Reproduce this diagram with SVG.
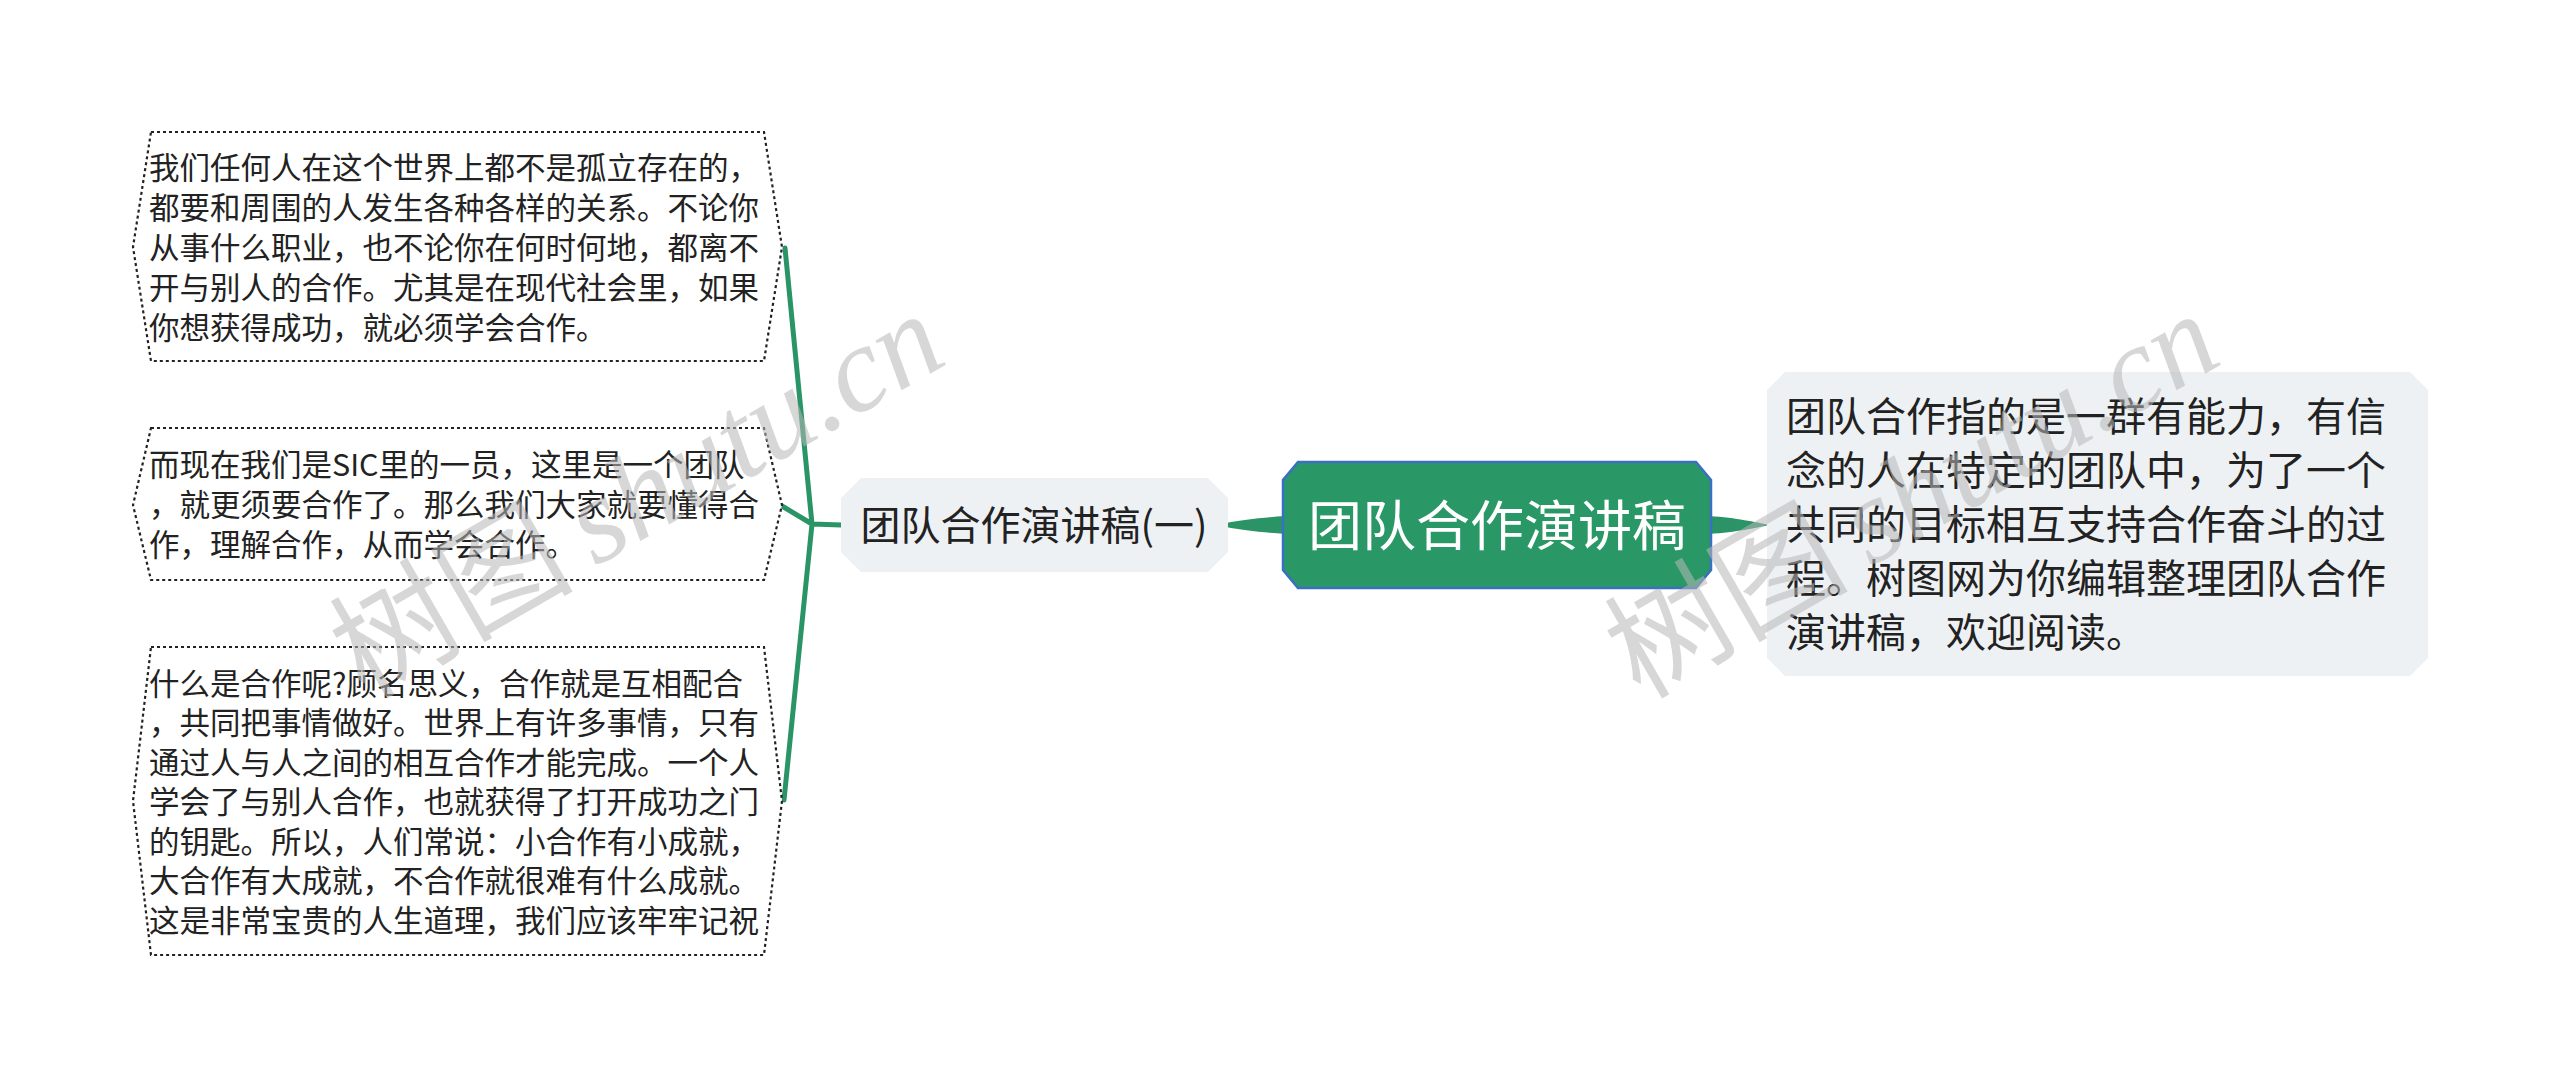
<svg xmlns="http://www.w3.org/2000/svg" width="2560" height="1089" viewBox="0 0 2560 1089">
<style>
text{font-family:"Noto Sans CJK SC","Noto Sans",sans-serif;}
.leaf{fill:#fff;stroke:#222;stroke-width:2.2;stroke-dasharray:3 3;}
.lt{font-size:30.5px;fill:#222;}
.rt{font-size:40px;fill:#222;}
.conn{stroke:#2a9466;stroke-width:5;fill:none;stroke-linecap:round;}
.wm{font-size:122px;fill:#b8b8b8;opacity:.55;}
.wm2{font-family:"Liberation Serif",serif;font-style:italic;}
</style>
<rect width="2560" height="1089" fill="#fff"/>
<g id="connectors">
<path class="conn" d="M841,525 L812,524 M812,524 L785,248 M812,524 L782,506 M812,524 L784,800"/>
<path d="M1285,516 C1258,518 1242,520 1226,523 L1226,527 C1242,530 1258,532 1285,534 Z" fill="#2a9466"/>
<path d="M1709,516 C1738,518 1754,522 1770,525 C1754,528 1738,532 1709,534 Z" fill="#2a9466"/>
</g>
<g id="node-center">
<path d="M1298,462 L1696,462 L1711,480 L1711,570 L1696,588 L1298,588 L1283,570 L1283,480 Z" fill="#2a9866" stroke="#3a6fc2" stroke-width="2.5"/>
<text x="1497" y="546" text-anchor="middle" font-size="54" fill="#fff">团队合作演讲稿</text>
</g>
<g id="node-branch">
<path d="M861,478 L1208,478 L1228,498 L1228,552 L1208,572 L861,572 L841,552 L841,498 Z" fill="#eef1f4"/>
<text x="1034" y="540" text-anchor="middle" font-size="40" fill="#222">团队合作演讲稿(一)</text>
</g>
<g id="node-right">
<path d="M1785,372 L2410,372 L2428,390 L2428,658 L2410,676 L1785,676 L1767,658 L1767,390 Z" fill="#eef1f4"/>
<text class="rt" x="1786" y="431">团队合作指的是一群有能力，有信</text>
<text class="rt" x="1786" y="485">念的人在特定的团队中，为了一个</text>
<text class="rt" x="1786" y="539">共同的目标相互支持合作奋斗的过</text>
<text class="rt" x="1786" y="593">程。树图网为你编辑整理团队合作</text>
<text class="rt" x="1786" y="647">演讲稿，欢迎阅读。</text>
</g>
<g id="node-leaf1">
<path class="leaf" d="M151,132 L764,132 L782,247 L764,361 L151,361 L133,247 Z"/>
<text class="lt" x="149" y="179">我们任何人在这个世界上都不是孤立存在的，</text>
<text class="lt" x="149" y="219">都要和周围的人发生各种各样的关系。不论你</text>
<text class="lt" x="149" y="259">从事什么职业，也不论你在何时何地，都离不</text>
<text class="lt" x="149" y="299">开与别人的合作。尤其是在现代社会里，如果</text>
<text class="lt" x="149" y="339">你想获得成功，就必须学会合作。</text>
</g>
<g id="node-leaf2">
<path class="leaf" d="M151,428 L764,428 L782,505 L764,580 L151,580 L133,505 Z"/>
<text class="lt" x="149" y="476">而现在我们是SIC里的一员，这里是一个团队</text>
<text class="lt" x="149" y="516">，就更须要合作了。那么我们大家就要懂得合</text>
<text class="lt" x="149" y="556">作，理解合作，从而学会合作。</text>
</g>
<g id="node-leaf3">
<path class="leaf" d="M151,647 L764,647 L782,801 L764,955 L151,955 L133,801 Z"/>
<text class="lt" x="149" y="695">什么是合作呢?顾名思义，合作就是互相配合</text>
<text class="lt" x="149" y="734">，共同把事情做好。世界上有许多事情，只有</text>
<text class="lt" x="149" y="774">通过人与人之间的相互合作才能完成。一个人</text>
<text class="lt" x="149" y="813">学会了与别人合作，也就获得了打开成功之门</text>
<text class="lt" x="149" y="853">的钥匙。所以，人们常说：小合作有小成就，</text>
<text class="lt" x="149" y="892">大合作有大成就，不合作就很难有什么成就。</text>
<text class="lt" x="149" y="932">这是非常宝贵的人生道理，我们应该牢牢记祝</text>
</g>
<g id="watermarks">
<text class="wm" transform="translate(365,700) rotate(-30)">树图<tspan class="wm2" dx="22">shutu.cn</tspan></text>
<text class="wm" transform="translate(1640,700) rotate(-30)">树图<tspan class="wm2" dx="22">shutu.cn</tspan></text>
</g>
</svg>
